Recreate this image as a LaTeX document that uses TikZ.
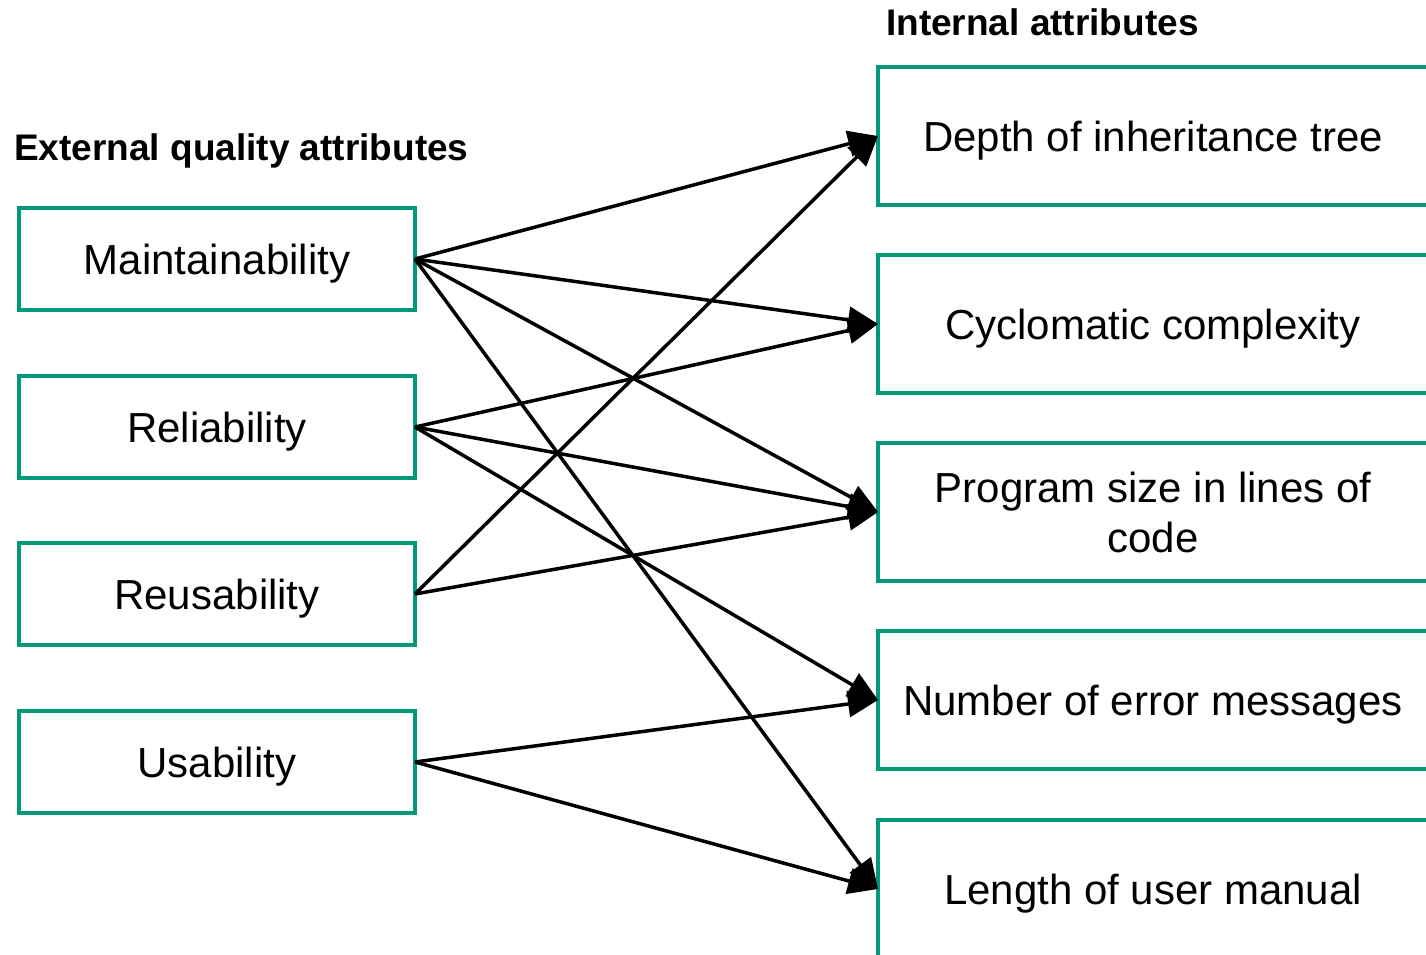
\documentclass[tikz,border=0pt]{standalone}
\usepackage{fontspec}
\setmainfont{Liberation Sans}
\usetikzlibrary{arrows.meta}
\definecolor{boxgreen}{HTML}{00997A}
\tikzset{
  ext/.style={draw=boxgreen, line width=3.5pt, minimum width=396pt, minimum height=102pt, inner sep=0pt, outer sep=0pt, text depth=0pt, font=\fontsize{42}{48}\selectfont, anchor=north west},
  int/.style={draw=boxgreen, line width=3.5pt, minimum width=560pt, minimum height=138pt, inner sep=0pt, outer sep=0pt, font=\fontsize{42}{50}\selectfont, anchor=north west},
  oneline/.style={text depth=0pt},
  lbl/.style={inner sep=0pt, anchor=base west, font=\bfseries\fontsize{37}{40}\selectfont},
  link/.style={line width=3.5pt, -{Triangle[length=30pt,width=26pt]}}
}
\begin{document}
\begin{tikzpicture}[x=1pt,y=-1pt]
\useasboundingbox (0,0) rectangle (1426,955);
\clip (0,0) rectangle (1426,955);
% headings of the two columns
\node[lbl] (ext) at (14,160) {External quality attributes};
\node[lbl] (int) at (886,36) {Internal attributes};
% external quality attributes
\node[ext] (m) at (19,208) {Maintainability};
\node[ext] (rl) at (19,376) {Reliability};
\node[ext] (ru) at (19,543) {Reusability};
\node[ext] (u) at (19,711) {Usability};
% internal attributes (boxes run off the right edge)
\node[int, oneline] (d) at (878,67) {\hspace*{-10pt}Depth of inheritance tree};
\node[int, oneline] (c) at (878,255) {\hspace*{-10pt}Cyclomatic complexity};
\node[int, align=center] (p) at (878,443) {\hspace*{-10pt}Program size in lines of\\\hspace*{-10pt}code};
\node[int, oneline] (n) at (878,631) {\hspace*{-10pt}Number of error messages};
\node[int, oneline] (l) at (878,820) {\hspace*{-10pt}Length of user manual};
% relationships
\draw[link] (m.east) -- (d.west);
\draw[link] (m.east) -- (c.west);
\draw[link] (m.east) -- (p.west);
\draw[link] (m.east) -- (l.west);
\draw[link] (rl.east) -- (c.west);
\draw[link] (rl.east) -- (p.west);
\draw[link] (rl.east) -- (n.west);
\draw[link] (ru.east) -- (d.west);
\draw[link] (ru.east) -- (p.west);
\draw[link] (u.east) -- (n.west);
\draw[link] (u.east) -- (l.west);
\end{tikzpicture}
\end{document}
